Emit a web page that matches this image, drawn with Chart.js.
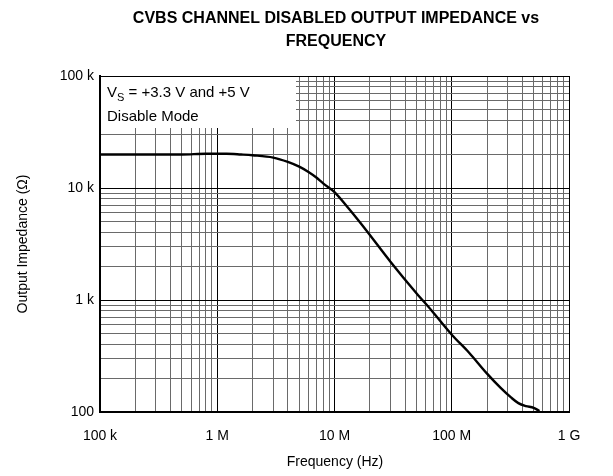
<!DOCTYPE html>
<html>
<head>
<meta charset="utf-8">
<script src="https://cdn.jsdelivr.net/npm/chart.js@4"></script>
<style>
  html, body { margin: 0; padding: 0; background: #fff; }
  #wrap { width: 613px; height: 476px; }
</style>
</head>
<body>
<div id="wrap"><canvas id="chartImp" width="613" height="476"></canvas></div>
<script>
// frequency (Hz) and output impedance (ohm)
const freqHz = [1e5, 5e5, 8e5, 1.2e6, 1.6e6, 2e6, 3e6, 4e6, 5e6, 6e6, 7e6, 8e6, 1e7, 1.3e7, 1.8e7, 3e7, 5e7, 6.7e7, 1e8, 1.4e8, 2e8, 2.6e8, 3.2e8, 3.7e8, 4.3e8, 5e8, 5.6e8];
const impedance = [19900, 19900, 20200, 20200, 19900, 19600, 18700, 17100, 15500, 13900, 12400, 11000, 9200, 6700, 4400, 2200, 1150, 810, 490, 340, 220, 165, 135, 120, 113, 109, 102];

const xTickLabels = { 1e5: "100 k", 1e6: "1 M", 1e7: "10 M", 1e8: "100 M", 1e9: "1 G" };
const yTickLabels = { 1e2: "100", 1e3: "1 k", 1e4: "10 k", 1e5: "100 k" };

const FONT = "'Liberation Sans', Arial, sans-serif";

const logTicks = (min, max) => {
  const ticks = [];
  for (let d = min; d < max; d *= 10) {
    for (let m = 1; m < 10; m++) ticks.push({ value: d * m, major: m === 1 });
  }
  ticks.push({ value: max, major: true });
  return ticks;
};

const isDecade = v => Math.abs(Math.log10(v) - Math.round(Math.log10(v))) < 1e-6;

const gridColor = ctx => (ctx.tick && isDecade(ctx.tick.value) ? "#000" : "#6a6a6a");

const textPlugin = {
  id: "textPlugin",
  beforeDatasetsDraw(chart) {
    const { ctx, chartArea } = chart;
    ctx.save();
    // legend box over the grid
    ctx.fillStyle = "#fff";
    ctx.fillRect(chartArea.left + 1, chartArea.top + 1, 195, 51);
    ctx.fillStyle = "#000";
    ctx.textBaseline = "alphabetic";
    ctx.textAlign = "left";
    ctx.font = "15px " + FONT;
    let x = chartArea.left + 7;
    const y1 = chartArea.top + 21;
    ctx.fillText("V", x, y1);
    x += ctx.measureText("V").width;
    ctx.font = "11px " + FONT;
    ctx.fillText("S", x, y1 + 4);
    x += ctx.measureText("S").width;
    ctx.font = "15px " + FONT;
    ctx.fillText(" = +3.3 V and +5 V", x, y1);
    ctx.fillText("Disable Mode", chartArea.left + 7, chartArea.top + 45);
    ctx.restore();
  },
  afterDraw(chart) {
    const { ctx } = chart;
    ctx.save();
    ctx.fillStyle = "#000";
    ctx.textAlign = "center";
    ctx.textBaseline = "alphabetic";
    ctx.font = "bold 16px " + FONT;
    ctx.fillText("CVBS CHANNEL DISABLED OUTPUT IMPEDANCE vs", 336, 23);
    ctx.fillText("FREQUENCY", 336, 46);
    ctx.font = "14px " + FONT;
    ctx.fillText("Frequency (Hz)", 335, 466);
    ctx.translate(27, 244);
    ctx.rotate(-Math.PI / 2);
    ctx.fillText("Output Impedance (\u03A9)", 0, 0);
    ctx.restore();
  }
};

new Chart(document.getElementById("chartImp").getContext("2d"), {
  type: "line",
  data: {
    datasets: [
      {
        data: freqHz.map((f, i) => ({ x: f, y: impedance[i] })),
        borderColor: "#000",
        borderWidth: 2.4,
        pointRadius: 0,
        cubicInterpolationMode: "monotone",
        fill: false
      }
    ]
  },
  options: {
    responsive: false,
    animation: false,
    layout: { padding: { top: 76, left: 0, right: 44, bottom: 0 } },
    plugins: { legend: { display: false }, title: { display: false }, tooltip: { enabled: false } },
    scales: {
      x: {
        type: "logarithmic",
        min: 1e5,
        max: 1e9,
        afterBuildTicks: s => { s.ticks = logTicks(1e5, 1e9); },
        afterFit: s => { s.height = 64; },
        grid: { color: gridColor, lineWidth: 1, drawTicks: false },
        border: { color: "#000", width: 2 },
        ticks: {
          autoSkip: false,
          maxRotation: 0,
          padding: 16,
          color: "#000",
          font: { family: FONT, size: 14 },
          callback: v => xTickLabels[v] || ""
        }
      },
      y: {
        type: "logarithmic",
        min: 100,
        max: 1e5,
        afterBuildTicks: s => { s.ticks = logTicks(100, 1e5); },
        afterFit: s => { s.width = 100; },
        grid: { color: gridColor, lineWidth: 1, drawTicks: false },
        border: { color: "#000", width: 2 },
        ticks: {
          autoSkip: false,
          padding: 6,
          color: "#000",
          font: { family: FONT, size: 14 },
          callback: v => yTickLabels[v] || ""
        }
      }
    }
  },
  plugins: [textPlugin]
});
</script>
</body>
</html>
